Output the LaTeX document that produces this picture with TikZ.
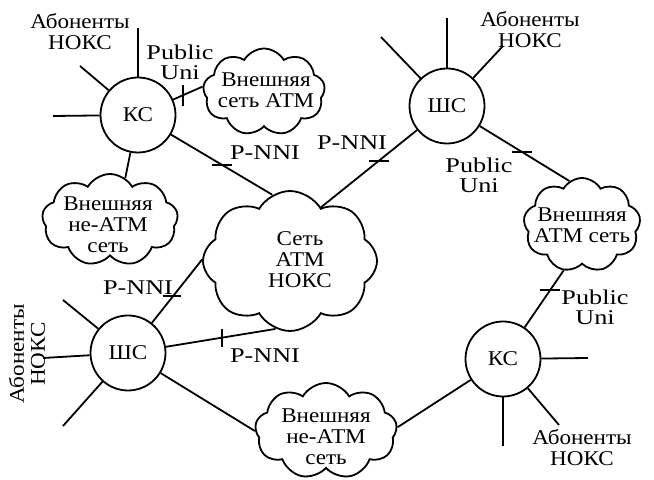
\documentclass[tikz,border=0pt]{standalone}
\usepackage{fontspec}
\setmainfont{Liberation Serif}[FakeStretch=1.1]
\newfontfamily\latinwide{Liberation Serif}[FakeStretch=1.25]
\usetikzlibrary{shapes.geometric,shapes.symbols,calc}
\begin{document}
\begin{tikzpicture}[x=0.5pt,y=-0.5pt,
  every node/.style={font=\fontsize{10.5}{10.5}\selectfont},
  sw/.style={circle,draw,line width=0.9pt,minimum size=37.5pt,inner sep=0pt},
  net/.style={cloud,draw,line width=0.9pt,cloud puffs=9,cloud puff arc=120,cloud ignores aspect,inner sep=0pt},
  txt/.style={align=center,inner sep=0pt},
  lnk/.style={line width=0.9pt},
  lbl/.style={align=center,inner sep=0pt},
  ifc/.style={align=center,inner sep=0pt,font=\latinwide\fontsize{10.5}{10}\selectfont},
]
\useasboundingbox (0,0) rectangle (654,480);

% switches
\node[sw] (ks1) at (138,115) {КС};
\node[sw] (sh1) at (447,106) {ШС};
\node[sw] (sh2) at (128,353) {ШС};
\node[sw] (ks2) at (503,359) {КС};

% clouds
\node[net,cloud puffs=8,minimum width=87pt,minimum height=70pt] (core) at (290,261) {};
\node[net,minimum width=61pt,minimum height=43.5pt] (atm1) at (264,92) {};
\node[net,minimum width=68pt,minimum height=46pt] (non1) at (110,220) {};
\node[net,minimum width=71pt,minimum height=48pt] (non2) at (326,431) {};
\node[net,minimum width=58.5pt,minimum height=47pt] (atm2) at (582,225) {};

\node[txt] (core-t) at (300,260) {Сеть\\АТМ\\НОКС};
\node[txt] (atm1-t) at (266,90) {Внешняя\\сеть АТМ};
\node[txt] (non1-t) at (108,225) {Внешняя\\не-АТМ\\сеть};
\node[txt] (non2-t) at (326,437) {Внешняя\\не-АТМ\\сеть};
\node[txt] (atm2-t) at (582,225) {Внешняя\\АТМ сеть};

% subscriber lines
\coordinate (s1a) at (138,28);
\coordinate (s1b) at (80,66);
\coordinate (s1c) at (53,116);
\draw[lnk] (ks1) -- (s1a);
\draw[lnk] (ks1) -- (s1b);
\draw[lnk] (ks1) -- (s1c);

\coordinate (s2a) at (447,18);
\coordinate (s2b) at (381,37);
\coordinate (s2c) at (503,46);
\draw[lnk] (sh1) -- (s2a);
\draw[lnk] (sh1) -- (s2b);
\draw[lnk] (sh1) -- (s2c);

\coordinate (s3a) at (43,358);
\coordinate (s3b) at (63,300);
\coordinate (s3c) at (63,426);
\draw[lnk] (sh2) -- (s3a);
\draw[lnk] (sh2) -- (s3b);
\draw[lnk] (sh2) -- (s3c);

\coordinate (s4a) at (588,358);
\coordinate (s4b) at (503,446);
\coordinate (s4c) at (559,425);
\draw[lnk] (ks2) -- (s4a);
\draw[lnk] (ks2) -- (s4b);
\draw[lnk] (ks2) -- (s4c);

% links
\draw[lnk] (ks1) -- coordinate[pos=0.33] (t1) (atm1.175);
\draw[lnk] ([yshift=-5.5pt]t1) -- ([yshift=5pt]t1);

\draw[lnk] (ks1) -- coordinate[pos=0.5] (t2) (core.105);
\draw[lnk] ([xshift=-5pt]t2) -- ([xshift=5pt]t2);

\draw[lnk] (ks1) -- (non1.70);

\draw[lnk] (sh1) -- coordinate[pos=0.4] (t3) (core.60);
\draw[lnk] ([xshift=-5pt]t3) -- ([xshift=5pt]t3);

\draw[lnk] (sh1) -- coordinate[pos=0.47] (t4) (atm2.106);
\draw[lnk] ([xshift=-5pt]t4) -- ([xshift=5pt]t4);

\draw[lnk] (sh2) -- coordinate[pos=0.42] (t5) (core.179);
\draw[lnk] ([xshift=-5pt]t5) -- ([xshift=4pt]t5);

\draw[lnk] (sh2) -- coordinate[pos=0.51] (t6) (core.258);
\draw[lnk] ([yshift=-4.5pt]t6) -- ([yshift=4.5pt]t6);

\draw[lnk] (sh2) -- (non2.west);

\draw[lnk] (ks2) -- coordinate[pos=0.66] (t7) (atm2.248);
\draw[lnk] ([xshift=-5pt]t7) -- ([xshift=5pt]t7);

\draw[lnk] (ks2) -- (non2.3);

% labels
\node[lbl] (l1) at (80,32) {Абоненты\\НОКС};
\node[lbl] (l2) at (530,30) {Абоненты\\НОКС};
\node[lbl,rotate=90] (l3) at (27,354) {Абоненты\\НОКС};
\node[lbl] (l4) at (582,448) {Абоненты\\НОКС};

\node[ifc] (p1) at (180,62) {Public\\Uni};
\node[ifc] (p2) at (479,175) {Public\\Uni};
\node[ifc] (p3) at (595,307) {Public\\Uni};

\node[ifc] (n1) at (265,153) {P-NNI};
\node[ifc] (n2) at (352,143) {P-NNI};
\node[ifc] (n3) at (138,288) {P-NNI};
\node[ifc] (n4) at (265,356) {P-NNI};
\end{tikzpicture}
\end{document}
